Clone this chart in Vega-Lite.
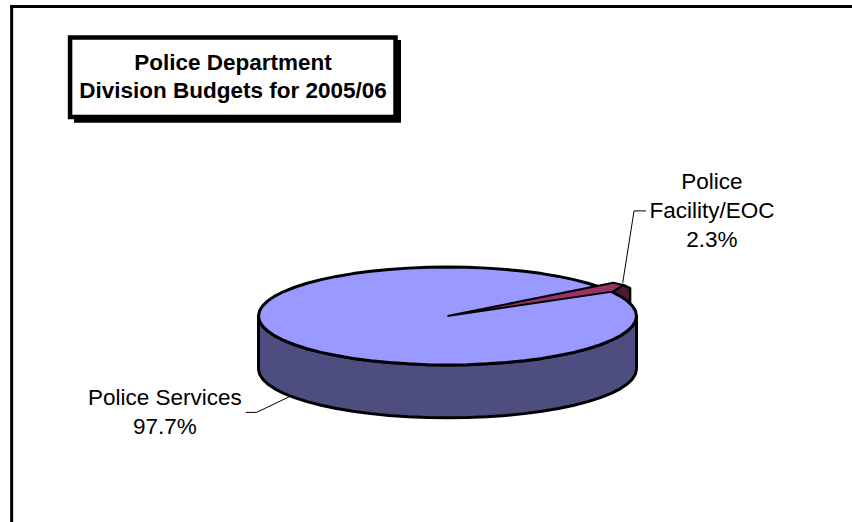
{
  "$schema": "https://vega.github.io/schema/vega-lite/v6.json",
  "width": 852,
  "height": 522,
  "autosize": {"type": "none"},
  "padding": 0,
  "background": "#ffffff",
  "view": {"stroke": null},
  "datasets": {
    "disc": [
      {"u": -1, "upper": 0, "lower": 0, "base": -0.28},
      {"u": -0.9945, "upper": 0.0271, "lower": -0.0271, "base": -0.3071},
      {"u": -0.9781, "upper": 0.0538, "lower": -0.0538, "base": -0.3338},
      {"u": -0.9511, "upper": 0.08, "lower": -0.08, "base": -0.36},
      {"u": -0.9135, "upper": 0.1053, "lower": -0.1053, "base": -0.3853},
      {"u": -0.866, "upper": 0.1295, "lower": -0.1295, "base": -0.4095},
      {"u": -0.809, "upper": 0.1522, "lower": -0.1522, "base": -0.4322},
      {"u": -0.7431, "upper": 0.1733, "lower": -0.1733, "base": -0.4533},
      {"u": -0.6691, "upper": 0.1925, "lower": -0.1925, "base": -0.4725},
      {"u": -0.5878, "upper": 0.2095, "lower": -0.2095, "base": -0.4895},
      {"u": -0.5, "upper": 0.2243, "lower": -0.2243, "base": -0.5043},
      {"u": -0.4067, "upper": 0.2366, "lower": -0.2366, "base": -0.5166},
      {"u": -0.309, "upper": 0.2463, "lower": -0.2463, "base": -0.5263},
      {"u": -0.2079, "upper": 0.2533, "lower": -0.2533, "base": -0.5333},
      {"u": -0.1045, "upper": 0.2576, "lower": -0.2576, "base": -0.5376},
      {"u": 0, "upper": 0.259, "lower": -0.259, "base": -0.539},
      {"u": 0.1045, "upper": 0.2576, "lower": -0.2576, "base": -0.5376},
      {"u": 0.2079, "upper": 0.2533, "lower": -0.2533, "base": -0.5333},
      {"u": 0.309, "upper": 0.2463, "lower": -0.2463, "base": -0.5263},
      {"u": 0.4067, "upper": 0.2366, "lower": -0.2366, "base": -0.5166},
      {"u": 0.5, "upper": 0.2243, "lower": -0.2243, "base": -0.5043},
      {"u": 0.5878, "upper": 0.2095, "lower": -0.2095, "base": -0.4895},
      {"u": 0.6691, "upper": 0.1925, "lower": -0.1925, "base": -0.4725},
      {"u": 0.7431, "upper": 0.1733, "lower": -0.1733, "base": -0.4533},
      {"u": 0.809, "upper": 0.1522, "lower": -0.1522, "base": -0.4322},
      {"u": 0.866, "upper": 0.1295, "lower": -0.1295, "base": -0.4095},
      {"u": 0.9135, "upper": 0.1053, "lower": -0.1053, "base": -0.3853},
      {"u": 0.9511, "upper": 0.08, "lower": -0.08, "base": -0.36},
      {"u": 0.9781, "upper": 0.0538, "lower": -0.0538, "base": -0.3338},
      {"u": 0.9945, "upper": 0.0271, "lower": -0.0271, "base": -0.3071},
      {"u": 1, "upper": 0, "lower": 0, "base": -0.28}
    ],
    "facilityEdge": [
      {"step": 1, "u": 0.874, "v": 0.129},
      {"step": 2, "u": 0.929, "v": 0.164},
      {"step": 3, "u": 0.966, "v": 0.148},
      {"step": 4, "u": 0.966, "v": 0.066},
      {"step": 5, "u": 0.874, "v": 0.129}
    ],
    "facilityTop": [
      {"step": 1, "u": 0, "v": 0},
      {"step": 2, "u": 0.877, "v": 0.176},
      {"step": 3, "u": 0.929, "v": 0.164},
      {"step": 4, "u": 0.874, "v": 0.129},
      {"step": 5, "u": 0, "v": 0}
    ],
    "leaders": [
      {"label": "Police Facility/EOC", "step": 1, "u": 0.927, "v": 0.175},
      {"label": "Police Facility/EOC", "step": 2, "u": 0.987, "v": 0.556},
      {"label": "Police Facility/EOC", "step": 3, "u": 1.05, "v": 0.556},
      {"label": "Police Services", "step": 1, "u": -0.837, "v": -0.427},
      {"label": "Police Services", "step": 2, "u": -1.01, "v": -0.51},
      {"label": "Police Services", "step": 3, "u": -1.068, "v": -0.51}
    ],
    "sliceLabels": [
      {"line": "Police", "u": 1.399, "v": 0.672},
      {"line": "Facility/EOC", "u": 1.399, "v": 0.521},
      {"line": "2.3%", "u": 1.399, "v": 0.365},
      {"line": "Police Services", "u": -1.495, "v": -0.471},
      {"line": "97.7%", "u": -1.495, "v": -0.624}
    ],
    "heading": [
      {"line": "Police Department", "u": -1.135, "v": 1.302},
      {"line": "Division Budgets for 2005/06", "u": -1.135, "v": 1.153}
    ]
  },
  "encoding": {
    "x": {"field": "u", "type": "quantitative", "axis": null, "scale": {"domain": [-2.3677, 2.1402], "nice": false, "zero": false}},
    "y": {"field": "v", "type": "quantitative", "axis": null, "scale": {"domain": [-1.09, 1.672], "nice": false, "zero": false}}
  },
  "layer": [
    {
      "description": "Outer frame, open towards the right and bottom edges",
      "data": {"values": [
        {"u": -2.314, "u2": 2.1402, "v": 1.638, "v2": 1.638},
        {"u": -2.306, "u2": -2.306, "v": 1.646, "v2": -1.09}
      ]},
      "mark": {"type": "rule", "color": "#000000", "strokeWidth": 3},
      "encoding": {"x2": {"field": "u2"}, "y2": {"field": "v2"}}
    },
    {
      "description": "Heading box drop shadow",
      "data": {"values": [{"u": -1.976, "u2": -0.246, "v": 1.46, "v2": 1.023}]},
      "mark": {"type": "rect", "fill": "#000000"},
      "encoding": {"x2": {"field": "u2"}, "y2": {"field": "v2"}}
    },
    {
      "description": "Heading box",
      "data": {"values": [{"u": -1.997, "u2": -0.275, "v": 1.474, "v2": 1.053}]},
      "mark": {"type": "rect", "fill": "#ffffff", "stroke": "#000000", "strokeWidth": 4.5},
      "encoding": {"x2": {"field": "u2"}, "y2": {"field": "v2"}}
    },
    {
      "description": "Heading text",
      "data": {"name": "heading"},
      "mark": {"type": "text", "font": "Liberation Sans", "fontWeight": "bold", "fontSize": 22.5, "align": "center", "baseline": "alphabetic", "color": "#000000"},
      "encoding": {"text": {"field": "line"}}
    },
    {
      "description": "Cylinder wall of the pie",
      "data": {"name": "disc"},
      "mark": {"type": "area", "fill": "#4D4D80", "stroke": "#000000", "strokeWidth": 3, "strokeJoin": "round"},
      "encoding": {"y": {"field": "lower", "type": "quantitative"}, "y2": {"field": "base"}}
    },
    {
      "description": "Outer face of the small raised slice",
      "data": {"name": "facilityEdge"},
      "mark": {"type": "line", "fill": "#4D1A33", "stroke": "#000000", "strokeWidth": 2.5, "strokeJoin": "round"},
      "encoding": {"order": {"field": "step"}}
    },
    {
      "description": "Top face of the large slice",
      "data": {"name": "disc"},
      "mark": {"type": "area", "fill": "#9999FF", "stroke": "#000000", "strokeWidth": 3, "strokeJoin": "round"},
      "encoding": {"y": {"field": "upper", "type": "quantitative"}, "y2": {"field": "lower"}}
    },
    {
      "description": "Top face of the small slice",
      "data": {"name": "facilityTop"},
      "mark": {"type": "line", "fill": "#993366", "stroke": "#000000", "strokeWidth": 2, "strokeJoin": "round"},
      "encoding": {"order": {"field": "step"}}
    },
    {
      "description": "Leader lines from slices to labels",
      "data": {"name": "leaders"},
      "mark": {"type": "line", "stroke": "#000000", "strokeWidth": 1},
      "encoding": {"detail": {"field": "label"}, "order": {"field": "step"}}
    },
    {
      "description": "Slice labels with their shares",
      "data": {"name": "sliceLabels"},
      "mark": {"type": "text", "font": "Liberation Sans", "fontSize": 22.5, "align": "center", "baseline": "alphabetic", "color": "#000000"},
      "encoding": {"text": {"field": "line"}}
    }
  ]
}
